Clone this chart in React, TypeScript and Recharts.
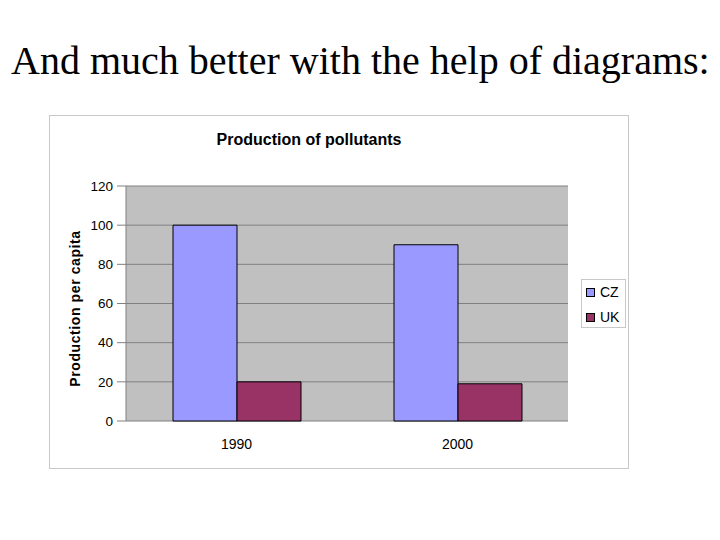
import React from 'react';
import { BarChart, Bar, XAxis, YAxis, CartesianGrid, Legend, ReferenceLine } from 'recharts';

const categories = ['1990', '2000'];
const czValues = [100, 90];
const ukValues = [20, 19];
const yTicks = [0, 20, 40, 60, 80, 100, 120];
const boundaryTicks = [0, 1, 2];
const seriesNames = ['CZ', 'UK'];
const seriesColors = ['#9999FF', '#993366'];

const data = categories.map((c, i) => ({ year: c, CZ: czValues[i], UK: ukValues[i] }));

const FONT = 'Arial, "Liberation Sans", sans-serif';

const YLabel = (props: any) => {
  const vb = props.viewBox || { x: 0, y: 0, width: 0, height: 0 };
  const cx = vb.x + 26;
  const cy = vb.y + vb.height / 2 + 5;
  return (
    <text
      x={cx}
      y={cy}
      transform={`rotate(-90, ${cx}, ${cy})`}
      textAnchor="middle"
      dominantBaseline="central"
      fontFamily={FONT}
      fontWeight="bold"
      fontSize={14}
      letterSpacing={0.6}
      fill="#000"
    >
      Production per capita
    </text>
  );
};

const renderLegend = () => (
  <div
    style={{
      width: 45,
      height: 49,
      boxSizing: 'border-box',
      border: '1px solid #c8c8c8',
      background: '#fff',
      position: 'relative',
      fontFamily: FONT,
      fontSize: 14,
    }}
  >
    {seriesNames.map((n, i) => (
      <div key={n} style={{ position: 'absolute', left: 4, top: 4 + i * 25, height: 16, display: 'flex', alignItems: 'center' }}>
        <span style={{ display: 'inline-block', width: 7, height: 7, background: seriesColors[i], border: '1px solid #000', marginRight: 5 }} />
        <span style={{ lineHeight: '16px' }}>{n}</span>
      </div>
    ))}
  </div>
);

export default function App() {
  return (
    <div style={{ position: 'absolute', left: 0, top: 0, width: 720, height: 540, background: '#fff', overflow: 'hidden' }}>
      <div
        style={{
          position: 'absolute',
          left: 11,
          top: 38,
          fontFamily: '"Liberation Serif", "Times New Roman", serif',
          fontSize: 40,
          lineHeight: '46px',
          whiteSpace: 'nowrap',
          color: '#000',
        }}
      >
        And much better with the help of diagrams:
      </div>
      <div style={{ position: 'absolute', left: 49, top: 115, width: 580, height: 354 }}>
        <BarChart
          width={580}
          height={354}
          data={data}
          margin={{ top: 71, right: 61, left: 0, bottom: 0 }}
          barGap={0}
          barSize={64}
        >
          <CartesianGrid vertical={false} stroke="#808080" fill="#C0C0C0" yAxisId="y" xAxisId="cat" />
          <XAxis
            xAxisId="grid"
            type="number"
            domain={[0, 2]}
            ticks={boundaryTicks}
            tickFormatter={() => ''}
            tickSize={5}
            height={0}
            stroke="#808080"
            allowDataOverflow
          />
          <XAxis
            xAxisId="cat"
            dataKey="year"
            axisLine={false}
            tickLine={false}
            tickSize={0}
            tickMargin={18}
            height={48}
            tick={{ fontFamily: FONT, fontSize: 14, fill: '#000' }}
          />
          <YAxis
            yAxisId="y"
            domain={[0, 120]}
            ticks={yTicks}
            width={77}
            tickSize={9}
            tickMargin={4}
            stroke="#808080"
            tick={{ fontFamily: FONT, fontSize: 13.5, fill: '#000' }}
            label={<YLabel />}
          />
          <ReferenceLine xAxisId="grid" yAxisId="y" x={2} stroke="#808080" />
          <Legend
            layout="vertical"
            align="center"
            verticalAlign="middle"
            content={renderLegend}
            wrapperStyle={{ position: 'absolute', left: 532, top: 164, width: 45, height: 49 }}
          />
          <Bar xAxisId="cat" yAxisId="y" dataKey="CZ" fill={seriesColors[0]} stroke="#000" strokeWidth={1} isAnimationActive={false} />
          <Bar xAxisId="cat" yAxisId="y" dataKey="UK" fill={seriesColors[1]} stroke="#000" strokeWidth={1} isAnimationActive={false} />
        </BarChart>
        <div
          style={{
            position: 'absolute',
            left: 0,
            top: 17,
            width: 520,
            textAlign: 'center',
            fontFamily: FONT,
            fontWeight: 'bold',
            fontSize: 16,
            lineHeight: '16px',
            color: '#000',
          }}
        >
          Production of pollutants
        </div>
        <div style={{ position: 'absolute', left: 0, top: 0, width: 580, height: 354, boxSizing: 'border-box', border: '1px solid #c8c8c8', pointerEvents: 'none' }} />
      </div>
    </div>
  );
}
